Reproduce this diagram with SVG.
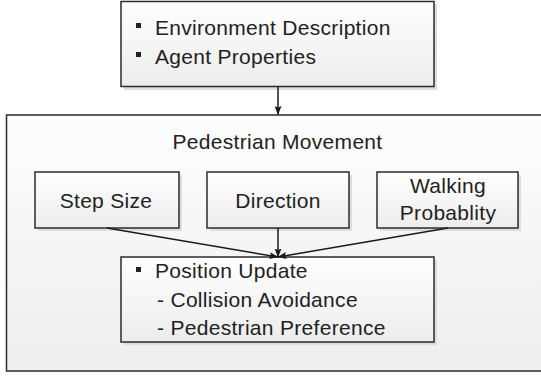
<svg xmlns="http://www.w3.org/2000/svg" width="541" height="377" viewBox="0 0 541 377">
<defs>
<linearGradient id="gBox" x1="0" y1="0" x2="0" y2="1">
<stop offset="0" stop-color="#ffffff"/>
<stop offset="1" stop-color="#ececec"/>
</linearGradient>
<linearGradient id="gOuter" x1="0" y1="0" x2="0" y2="1">
<stop offset="0" stop-color="#fdfdfd"/>
<stop offset="1" stop-color="#eeeeee"/>
</linearGradient>
<marker id="arr" markerWidth="9" markerHeight="7" refX="8.5" refY="3.5" orient="auto" markerUnits="userSpaceOnUse">
<path d="M0,0 L9,3.5 L0,7 L1.5,3.5 Z" fill="#1a1a1a"/>
</marker>
</defs>
<style>
.box{fill:url(#gBox);stroke:#2b2b2b;stroke-width:1.5}
.outer{fill:url(#gOuter);stroke:#2b2b2b;stroke-width:1.5}
.shadow{fill:#dddddd}
.t{font-family:"Liberation Sans",Arial,sans-serif;font-size:21px;fill:#222222;letter-spacing:0.3px}
.c{text-anchor:middle}
.bul{fill:#222222}
.con{stroke:#1a1a1a;stroke-width:1.5;fill:none}
</style>
<g id="top">
<rect class="shadow" x="124" y="4" width="313" height="86"/>
<rect class="box" x="121" y="1.5" width="313" height="85"/>
<rect class="bul" x="136" y="23" width="5" height="5"/>
<text class="t" x="155" y="35">Environment Description</text>
<rect class="bul" x="136" y="52" width="5" height="5"/>
<text class="t" x="155" y="64">Agent Properties</text>
</g>
<g id="pedestrian-movement">
<rect class="outer" x="6.5" y="115" width="536" height="256"/>
<text class="t c" x="277.5" y="149">Pedestrian Movement</text>
</g>
<g id="step-size">
<rect class="shadow" x="38" y="175" width="144" height="56"/>
<rect class="box" x="35" y="172" width="144" height="56"/>
<text class="t c" x="106" y="207.5">Step Size</text>
</g>
<g id="direction">
<rect class="shadow" x="210" y="175" width="142" height="56"/>
<rect class="box" x="207" y="172" width="142" height="56"/>
<text class="t c" x="278" y="207.5">Direction</text>
</g>
<g id="walking">
<rect class="shadow" x="380" y="175" width="141" height="56"/>
<rect class="box" x="377" y="172" width="141" height="56"/>
<text class="t c" x="448" y="193">Walking</text>
<text class="t c" x="448" y="220">Probablity</text>
</g>
<g id="position-update">
<rect class="shadow" x="124" y="260" width="313" height="85"/>
<rect class="box" x="121" y="257" width="313" height="85"/>
<rect class="bul" x="136" y="267" width="5" height="5"/>
<text class="t" x="155" y="278">Position Update</text>
<text class="t" x="157" y="307">- Collision Avoidance</text>
<text class="t" x="157" y="335">- Pedestrian Preference</text>
</g>
<g id="connectors">
<line class="con" x1="278" y1="87" x2="278" y2="114.5" marker-end="url(#arr)"/>
<line class="con" x1="107" y1="228" x2="278" y2="257" marker-end="url(#arr)"/>
<line class="con" x1="278" y1="228" x2="278" y2="257" marker-end="url(#arr)"/>
<line class="con" x1="448" y1="228" x2="278" y2="257" marker-end="url(#arr)"/>
</g>
</svg>
